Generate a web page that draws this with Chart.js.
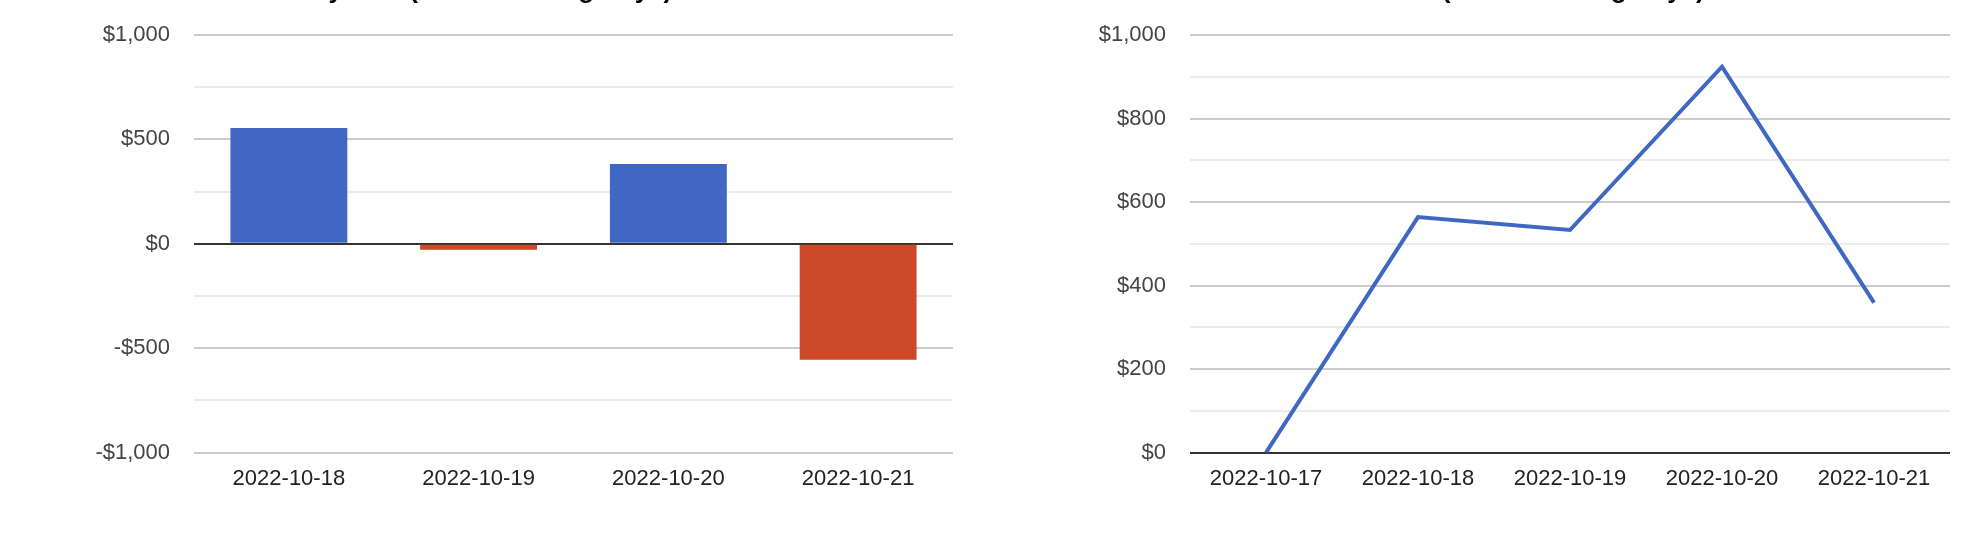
<!DOCTYPE html>
<html>
<head>
<meta charset="utf-8">
<script src="https://cdn.jsdelivr.net/npm/chart.js@4/dist/chart.umd.min.js"></script>
<style>
    html, body { margin: 0; padding: 0; background: #fff; overflow: hidden; }
    body { width: 1980px; height: 560px; position: relative; }
    .box { position: absolute; top: -25px; width: 990px; height: 585px; }
    #left { left: 0; }
    #right { left: 990px; }
</style>
</head>
<body>
<div class="box" id="left"><canvas id="dailyChart"></canvas></div>
<div class="box" id="right"><canvas id="cumChart"></canvas></div>

<script>
const dailyTitle = 'Daily P&L (Last 4 Trading Days)';
const dailyDates = ['2022-10-18', '2022-10-19', '2022-10-20', '2022-10-21'];
const dailyPnl = [555, -28, 382, -555];

const cumTitle = 'Cumulative P&L (Last 5 Trading Days)';
const cumDates = ['2022-10-17', '2022-10-18', '2022-10-19', '2022-10-20', '2022-10-21'];
const cumPnl = [0, 564, 533, 924, 359];

const BLUE = '#4167c5';
const RED = '#cc4a28';
const FONT = '"Liberation Sans", Arial, sans-serif';

Chart.defaults.font.family = FONT;

function money(v) {
    return (v < 0 ? '-' : '') + '$' + Math.abs(v).toLocaleString('en-US');
}

function yScale({ min, max, step, labelEvery, axisWidth }) {
    return {
        min,
        max,
        border: { display: false },
        // fixed axis width so the plot area starts where the original does
        afterFit: (scale) => { scale.width = axisWidth; },
        grid: {
            drawTicks: false,
            lineWidth: 2,
            color: (ctx) => {
                const v = ctx.tick ? ctx.tick.value : 1;
                if (v === 0) return '#333333';
                return v % labelEvery === 0 ? '#cccccc' : '#ebebeb';
            }
        },
        ticks: {
            stepSize: step,
            autoSkip: false,
            padding: 24,
            color: '#444444',
            font: { size: 22 },
            callback: (v) => v % labelEvery === 0 ? money(v) : ''
        }
    };
}

function xScale() {
    return {
        offset: true,
        border: { display: false },
        grid: { display: false, drawTicks: false },
        ticks: {
            padding: 13,
            color: '#222222',
            font: { size: 22 },
            maxRotation: 0
        }
    };
}

function baseOptions(title, padRight, y) {
    return {
        responsive: true,
        maintainAspectRatio: false,
        animation: false,
        layout: { padding: { left: 0, right: padRight, top: 0, bottom: 55 } },
        plugins: {
            legend: { display: false },
            tooltip: { enabled: false },
            title: {
                display: true,
                text: title,
                color: '#000000',
                font: { size: 26, weight: 'bold' },
                padding: { top: 0, bottom: 28.8 }
            }
        },
        scales: { x: xScale(), y }
    };
}

function createBarChart(ctx, { labels, data, title }) {
    return new Chart(ctx, {
        type: 'bar',
        data: {
            labels,
            datasets: [{
                data,
                backgroundColor: data.map(v => v < 0 ? RED : BLUE),
                borderWidth: 0,
                barPercentage: 0.616,
                categoryPercentage: 1
            }]
        },
        options: baseOptions(title, 37,
            yScale({ min: -1000, max: 1000, step: 250, labelEvery: 500, axisWidth: 194 }))
    });
}

function createLineChart(ctx, { labels, data, title }) {
    return new Chart(ctx, {
        type: 'line',
        data: {
            labels,
            datasets: [{
                data,
                borderColor: BLUE,
                backgroundColor: BLUE,
                borderWidth: 4,
                tension: 0,
                pointRadius: 0,
                fill: false
            }]
        },
        options: baseOptions(title, 30,
            yScale({ min: 0, max: 1000, step: 100, labelEvery: 200, axisWidth: 200 }))
    });
}

createBarChart(document.getElementById('dailyChart'), {
    labels: dailyDates,
    data: dailyPnl,
    title: dailyTitle
});

createLineChart(document.getElementById('cumChart'), {
    labels: cumDates,
    data: cumPnl,
    title: cumTitle
});
</script>
</body>
</html>
